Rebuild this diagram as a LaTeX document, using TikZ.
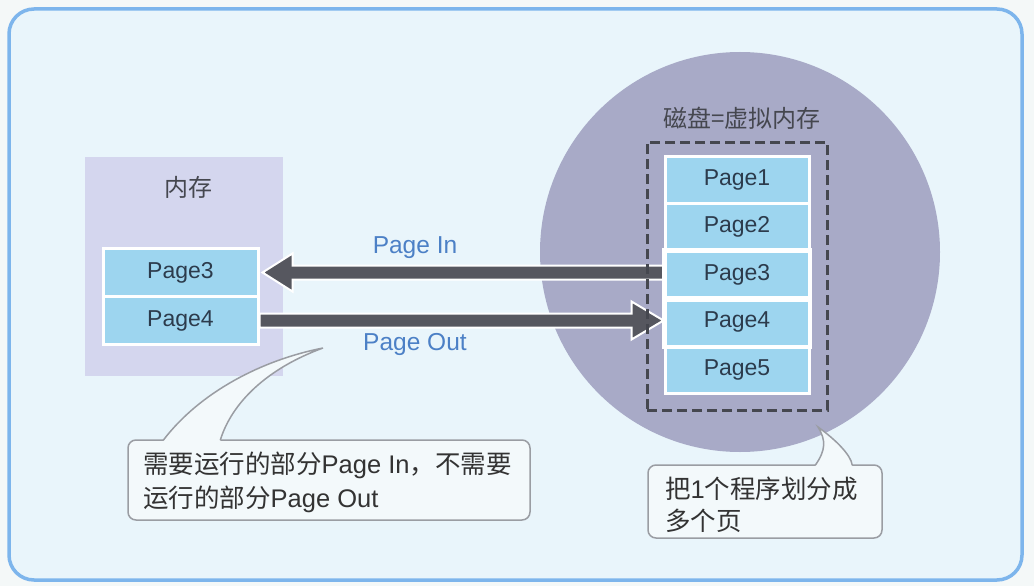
\documentclass[tikz,border=0pt]{standalone}
\usepackage{fontspec}
\setmainfont{Liberation Sans}
\newfontfamily\cjk{Noto Sans CJK SC}
\usetikzlibrary{calc}
\definecolor{outerc}{HTML}{F4F8F8}
\definecolor{bgc}{HTML}{E9F5FB}
\definecolor{framec}{HTML}{7DB5EC}
\definecolor{lavc}{HTML}{D4D6EE}
\definecolor{diskc}{HTML}{A8AAC7}
\definecolor{pagec}{HTML}{9DD5EF}
\definecolor{pagetext}{HTML}{2C3B4C}
\definecolor{darkc}{HTML}{45474F}
\definecolor{arrowc}{HTML}{56575F}
\definecolor{labelc}{HTML}{4C80C6}
\definecolor{callfill}{HTML}{F3F9FB}
\definecolor{callline}{HTML}{9A9DA3}
\definecolor{calltext}{HTML}{333333}
\begin{document}
\begin{tikzpicture}[x=1pt,y=-1pt,
  frame/.style={draw=framec,line width=3.5pt,fill=bgc,rounded corners=25pt,inner sep=0pt},
  lavbox/.style={fill=lavc,inner sep=0pt},
  disk/.style={circle,fill=diskc,inner sep=0pt},
  vmbox/.style={draw=darkc,line width=3pt,dash pattern=on 10pt off 5pt,inner sep=0pt},
  pagebox/.style={fill=pagec,draw=white,line width=3pt,inner sep=0pt,text=pagetext,font=\fontsize{23}{28}\selectfont},
  titletext/.style={text=darkc,font=\fontsize{24}{28}\selectfont\cjk,inner sep=0pt},
  bigarrow/.style={fill=arrowc,draw=white,line width=2pt,line join=miter},
  arrowlabel/.style={text=labelc,font=\fontsize{24.5}{28}\selectfont,inner sep=0pt},
  callbox/.style={fill=callfill,draw=callline,line width=1.5pt,rounded corners=8pt,inner sep=0pt},
  calltail/.style={draw=callline,line width=1.5pt},
  calltxt/.style={text=calltext,align=left,inner sep=0pt,anchor=west}
]
\useasboundingbox (0,0) rectangle (1034,586);
\fill[outerc] (0,0) rectangle (1034,586);
\node[frame,minimum width=1013,minimum height=571] (frame) at (515.5,294.5) {};

% memory
\node[lavbox,minimum width=198,minimum height=219] (mem) at (184,266.5) {};
\node[titletext] (memt) at (188,187) {内存};
\node[pagebox,minimum width=155,minimum height=48] (lp3) at (180.5,272.5) {Page3};
\node[pagebox,minimum width=155,minimum height=48] (lp4) at (180.5,320.5) {Page4};

% disk
\node[disk,minimum size=400] (disk) at (740,252) {};
\node[titletext] (diskt) at (742,118) {磁盘=虚拟内存};

% right pages (placed first so arrows can reference them)
\node[pagebox,minimum width=144,minimum height=47.5] (rp1) at (737,179.75) {Page1};
\node[pagebox,minimum width=144,minimum height=47.5] (rp2) at (737,227.25) {Page2};
\node[pagebox,minimum width=144,minimum height=47.5] (rp3) at (737,274.75) {Page3};
\node[pagebox,minimum width=144,minimum height=47.5] (rp4) at (737,322.25) {Page4};
\node[pagebox,minimum width=144,minimum height=47.5] (rp5) at (737,369.75) {Page5};

% arrows
\coordinate (intip) at ($(lp3.east)+(3,0)$);
\coordinate (intail) at (rp3.west |- lp3.east);
\draw[bigarrow] (intip) -- ++(30,-19) -- ++(0,12) -- ($(intail)+(0,-7)$) -- ($(intail)+(0,7)$)
  -- ($(intip)+(30,7)$) -- ++(0,12) -- cycle;
\coordinate (outtail) at (lp4.east);
\coordinate (outtip) at (rp4.west |- lp4.east);
\draw[bigarrow] ($(outtail)+(0,-7)$) -- ($(outtip)+(-32,-7)$) -- ++(0,-12) -- (outtip)
  -- ++(-32,19) -- ++(0,-12) -- ($(outtail)+(0,7)$) -- cycle;
% redraw right page borders over the arrow tails
\foreach \n in {rp3,rp4}{\draw[white,line width=3pt] (\n.north west) rectangle (\n.south east);}

\node[vmbox,minimum width=180,minimum height=268] (vm) at (737,276) {};

\node[arrowlabel] (inl) at (415,248) {Page In};
\node[arrowlabel] (outl) at (415,344) {Page Out};

% callout 1
\node[callbox,minimum width=402,minimum height=80] (c1) at (329,480) {};
\coordinate (c1tip) at (323,348);
\coordinate (c1a) at ($(c1.north west)+(36,2)$);
\coordinate (c1b) at ($(c1.north west)+(93,2)$);
\fill[callfill] (c1a) .. controls (200,392) and (262,360) .. (c1tip) .. controls (268,368) and (232,402) .. (c1b) -- cycle;
\draw[calltail] ($(c1a)+(0,-1)$) .. controls (200,392) and (262,360) .. (c1tip) .. controls (268,368) and (232,402) .. ($(c1b)+(0,-1)$);
\node[calltxt,font=\fontsize{25.5}{34}\selectfont] (c1t) at (143,482) {{\cjk 需要运行的部分}Page In{\cjk ，不需要}\\{\cjk 运行的部分}Page Out};

% callout 2
\node[callbox,minimum width=234,minimum height=73] (c2) at (765,501.5) {};
\coordinate (c2tip) at (818,427);
\coordinate (c2a) at ($(c2.north west)+(168,2)$);
\coordinate (c2b) at ($(c2.north west)+(205,2)$);
\fill[callfill] (c2a) .. controls (826,450) and (826,440) .. (c2tip) .. controls (836,440) and (851,455) .. (c2b) -- cycle;
\draw[calltail] ($(c2a)+(0,-1)$) .. controls (826,450) and (826,440) .. (c2tip) .. controls (836,440) and (851,455) .. ($(c2b)+(0,-1)$);
\node[calltxt,font=\fontsize{25.5}{32}\selectfont] (c2t) at (665,505) {{\cjk 把}1{\cjk 个程序划分成}\\{\cjk 多个页}};
\end{tikzpicture}
\end{document}
